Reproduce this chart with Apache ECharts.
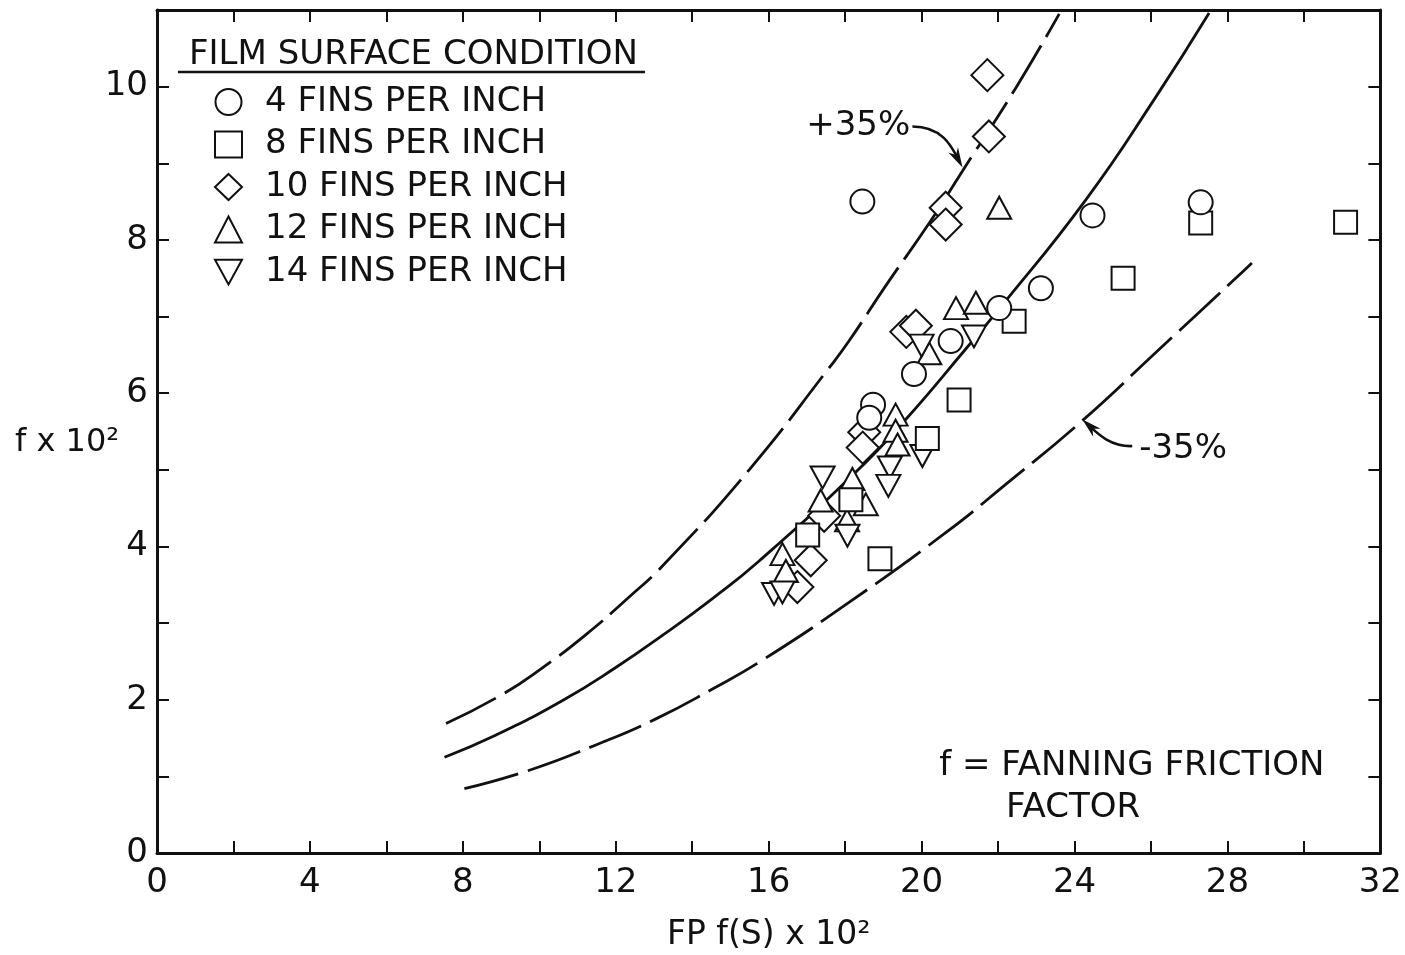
<!DOCTYPE html>
<html>
<head>
<meta charset="utf-8">
<script src="https://cdn.jsdelivr.net/npm/echarts@6/dist/echarts.min.js"></script>
<style>
html,body{margin:0;padding:0;background:#fff;}
#chart{width:1405px;height:955px;}
</style>
</head>
<body>
<div id="chart"></div>
<script>
// ---------- data ----------
const xTickLabels = [0, 4, 8, 12, 16, 20, 24, 28, 32];
const yTickLabels = [0, 2, 4, 6, 8, 10];

// correlation curve and ±35 % bands  [FP f(S) x10^2, f x10^2]
const solidCurve = [[7.52,1.25],[8.87,1.54],[10.61,1.99],[12.0,2.42],[13.22,2.84],[14.53,3.32],[15.75,3.81],[18.28,4.97],[19.59,5.66],[21.16,6.58],[22.03,7.10],[24.29,8.52],[26.12,9.86],[27.52,10.96]];
const plus35Curve = [[7.56,1.69],[9.0,2.06],[10.09,2.42],[11.22,2.85],[12.35,3.34],[13.27,3.77],[15.49,5.0],[17.58,6.33],[18.1,6.68],[19.06,7.40],[20.2,8.22],[21.07,8.90],[22.46,9.98],[23.6,10.95]];
const minus35Curve = [[8.04,0.84],[9.74,1.08],[11.48,1.41],[13.05,1.75],[14.53,2.14],[15.88,2.53],[18.1,3.27],[20.63,4.18],[22.2,4.81],[24.2,5.64],[26.21,6.57],[28.13,7.46],[28.64,7.70]];

const fins4 = [[18.45,8.50],[24.47,8.32],[27.30,8.49],[23.12,7.37],[22.03,7.11],[20.76,6.68],[19.80,6.25],[18.73,5.85],[18.63,5.68]];
const fins8 = [[31.09,8.23],[27.30,8.22],[25.27,7.50],[22.42,6.94],[20.98,5.91],[20.15,5.41],[18.91,3.84],[18.15,4.61],[17.02,4.15]];
const fins10 = [[21.72,10.15],[21.76,9.35],[20.63,8.42],[20.63,8.20],[19.60,6.80],[19.85,6.88],[18.50,5.49],[18.46,5.29],[17.45,4.40],[17.10,3.82],[16.75,3.47]];
const fins12 = [[22.03,8.42],[20.90,7.11],[21.42,7.18],[20.20,6.52],[19.32,5.72],[19.32,5.51],[19.37,5.33],[18.19,4.88],[17.36,4.60],[18.54,4.55],[18.05,4.34],[16.36,3.90],[16.45,3.68]];
const fins14 = [[21.37,6.74],[20.00,6.62],[20.02,5.18],[19.17,5.03],[19.13,4.79],[17.41,4.90],[18.06,4.14],[16.14,3.38],[16.36,3.40]];

const seriesNames = ['4 FINS PER INCH','8 FINS PER INCH','10 FINS PER INCH','12 FINS PER INCH','14 FINS PER INCH'];
const legendTitle = 'FILM SURFACE CONDITION';
const xTitle = 'FP f(S) x 10\u00B2';
const yTitle = 'f x 10\u00B2';
const plusLabel = '+35%';
const minusLabel = '-35%';
const noteLine1 = 'f = FANNING FRICTION';
const noteLine2 = 'FACTOR';

// annotation anchors in data coordinates
const plusLabelPos = [16.98, 9.48];
const plusArrow = [[19.76,9.48],[20.59,9.48],[20.82,9.18],[21.07,8.945]];
const minusLabelPos = [25.69, 5.27];
const minusArrow = [[25.51,5.31],[24.90,5.30],[24.55,5.50],[24.20,5.66]];
const note1Pos = [20.46, 1.13];
const note2Pos = [22.21, 0.59];

// ---------- chart ----------
const FONT = 'DejaVu Sans';
const INK = '#111';
const chart = echarts.init(document.getElementById('chart'), null, {renderer: 'canvas'});

const downTri = 'path://M0,0L24,0L12,22Z';
const markerStyle = {color: '#fff', borderColor: INK, borderWidth: 2, opacity: 1};

function axisX(pos, showLabel) {
  return {
    type: 'value', min: 0, max: 32, interval: 2, position: pos,
    axisLine: {show: true, onZero: false, lineStyle: {color: INK, width: 3}},
    axisTick: {show: true, inside: true, length: 12, lineStyle: {color: INK, width: 2}},
    splitLine: {show: false},
    axisLabel: {
      show: showLabel, margin: 13, fontSize: 34, fontFamily: FONT, color: INK,
      formatter: v => xTickLabels.indexOf(v) >= 0 ? String(v) : ''
    }
  };
}
function axisY(pos, showLabel) {
  return {
    type: 'value', min: 0, max: 11, interval: 1, position: pos,
    axisLine: {show: true, onZero: false, lineStyle: {color: INK, width: 3}},
    axisTick: {show: true, inside: true, length: 12, lineStyle: {color: INK, width: 2}},
    splitLine: {show: false},
    axisLabel: {
      show: showLabel, margin: 9, fontSize: 34, fontFamily: FONT, color: INK,
      formatter: v => yTickLabels.indexOf(v) >= 0 ? String(v) : ''
    }
  };
}

function curve(data, dashed) {
  return {
    type: 'line', data: data, smooth: 0.5, showSymbol: false, silent: true, z: 1,
    lineStyle: {color: INK, width: 2.8, type: dashed ? [56, 10] : 'solid'},
    xAxisIndex: 0, yAxisIndex: 0
  };
}
function scatter(name, data, symbol, size) {
  return {
    type: 'scatter', name: name, data: data, symbol: symbol, symbolSize: size,
    itemStyle: markerStyle, z: 3, xAxisIndex: 0, yAxisIndex: 0
  };
}

const option = {
  animation: false,
  backgroundColor: '#fff',
  textStyle: {fontFamily: FONT},
  grid: {left: 157, right: 23, top: 10, bottom: 102, containLabel: false},
  title: {
    text: legendTitle, left: 189, top: 38, padding: 0,
    textStyle: {fontSize: 34, fontWeight: 'normal', fontFamily: FONT, color: INK, lineHeight: 34}
  },
  legend: {
    orient: 'vertical', left: 214, top: 85, padding: 0,
    itemWidth: 27, itemHeight: 26, itemGap: 8.5,
    itemStyle: {color: '#fff', borderColor: INK, borderWidth: 2},
    textStyle: {fontSize: 34, fontFamily: FONT, color: INK, lineHeight: 34, padding: [0, 0, 0, 18]},
    data: [
      {name: seriesNames[0], icon: 'circle'},
      {name: seriesNames[1], icon: 'rect'},
      {name: seriesNames[2], icon: 'diamond'},
      {name: seriesNames[3], icon: 'triangle'},
      {name: seriesNames[4], icon: downTri}
    ],
    selectedMode: false
  },
  xAxis: [axisX('bottom', true), axisX('top', false)],
  yAxis: [axisY('left', true), axisY('right', false)],
  series: [
    curve(solidCurve, false),
    curve(plus35Curve, true),
    curve(minus35Curve, true),
    scatter(seriesNames[2], fins10, 'diamond', 32),
    scatter(seriesNames[3], fins12, 'triangle', [24, 22]),
    scatter(seriesNames[4], fins14, downTri, [24, 22]),
    scatter(seriesNames[1], fins8, 'rect', 23),
    scatter(seriesNames[0], fins4, 'circle', 24)
  ]
};
chart.setOption(option);

// ---------- annotations placed through the axes ----------
const toPx = d => chart.convertToPixel({xAxisIndex: 0, yAxisIndex: 0}, d);
function textEl(str, p, align, size) {
  return {
    type: 'text', x: p[0], y: p[1], silent: true,
    style: {text: str, fontSize: size || 34, fontFamily: FONT, fill: INK, align: align || 'left', verticalAlign: 'middle'}
  };
}
function arrowEls(pts) {
  const p = pts.map(toPx);
  const tip = p[3], c2 = p[2];
  let dx = tip[0] - c2[0], dy = tip[1] - c2[1];
  const L = Math.hypot(dx, dy) || 1; dx /= L; dy /= L;
  const nx = -dy, ny = dx, len = 20, w = 5.5;
  const bx = tip[0] - dx * len, by = tip[1] - dy * len;
  return [
    {type: 'bezierCurve', silent: true,
     shape: {x1: p[0][0], y1: p[0][1], cpx1: p[1][0], cpy1: p[1][1], cpx2: p[2][0], cpy2: p[2][1], x2: tip[0] - dx * 8, y2: tip[1] - dy * 8},
     style: {stroke: INK, lineWidth: 2.6, fill: null}},
    {type: 'polygon', silent: true,
     shape: {points: [[tip[0], tip[1]], [bx + nx * w, by + ny * w], [tip[0] - dx * 14, tip[1] - dy * 14], [bx - nx * w, by - ny * w]]},
     style: {fill: INK}}
  ];
}

const graphics = [
  {type: 'line', silent: true, shape: {x1: 178, y1: 72, x2: 645, y2: 72}, style: {stroke: INK, lineWidth: 2.6}},
  textEl(plusLabel, toPx(plusLabelPos)),
  textEl(minusLabel, toPx(minusLabelPos)),
  textEl(noteLine1, toPx(note1Pos)),
  textEl(noteLine2, toPx(note2Pos)),
  ...arrowEls(plusArrow),
  ...arrowEls(minusArrow),
  {type: 'text', x: (toPx([0,0])[0] + toPx([32,0])[0]) / 2, y: 935, silent: true,
   style: {text: xTitle, fontSize: 33, fontFamily: FONT, fill: INK, align: 'center', verticalAlign: 'middle'}},
  {type: 'text', x: 15, y: 443, silent: true,
   style: {text: yTitle, fontSize: 32, fontFamily: FONT, fill: INK, align: 'left', verticalAlign: 'middle'}}
];
chart.setOption({graphic: graphics});
</script>
</body>
</html>
